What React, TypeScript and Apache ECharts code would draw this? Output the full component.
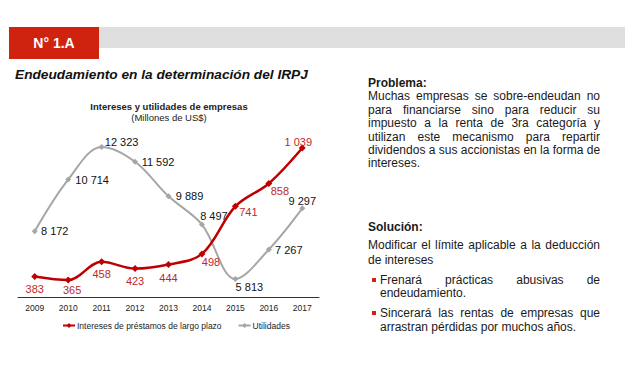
import React, { useEffect, useRef } from "react";
import * as echarts from "echarts";

// ---- Data ----
const years = ["2009", "2010", "2011", "2012", "2013", "2014", "2015", "2016", "2017"];
const intereses = [383, 365, 458, 423, 444, 498, 741, 858, 1039];
const utilidades = [8172, 10714, 12323, 11592, 9889, 8497, 5813, 7267, 9297];
const serieIntereses = "Intereses de préstamos de largo plazo";
const serieUtilidades = "Utilidades";

// ---- Label placement (styles, not data) ----
const redLabelOffsets: [number, number][] = [
  [0, 13], [4, 10], [0, 12], [0, 12], [0, 13], [9, 8], [13, 6], [11, 8], [-4, -6],
];
const greyLabelOffsets: [number, number][] = [
  [20, 0], [24, 0], [20, -5], [23, 0], [21, 0], [12, -9], [14, 8], [20, 0], [0, -7],
];

const FONT = "'Liberation Sans', Arial, Helvetica, sans-serif";
const RED = "#c00000";
const GREY = "#a6a6a6";

const fmt = (v: number) => String(v).replace(/\B(?=(\d{3})+(?!\d))/g, " ");

type Line = { text: string; y: number; justify?: boolean; bold?: boolean; x?: number; w?: number; bullet?: boolean };

const textLines: Line[] = [
  { text: "Problema:", y: 83, bold: true },
  { text: "Muchas empresas se sobre-endeudan no", y: 96, justify: true },
  { text: "para financiarse sino para reducir su", y: 109.5, justify: true },
  { text: "impuesto a la renta de 3ra categoría y", y: 123, justify: true },
  { text: "utilizan este mecanismo para repartir", y: 136.5, justify: true },
  { text: "dividendos a sus accionistas en la forma de", y: 150, justify: true },
  { text: "intereses.", y: 163 },
  { text: "Solución:", y: 227, bold: true },
  { text: "Modificar el límite aplicable a la deducción", y: 245, justify: true },
  { text: "de intereses", y: 259.5 },
  { text: "Frenará prácticas abusivas de", y: 280, justify: true, x: 380, w: 220, bullet: true },
  { text: "endeudamiento.", y: 293, x: 380, w: 220 },
  { text: "Sincerará las rentas de empresas que", y: 313, justify: true, x: 380, w: 220, bullet: true },
  { text: "arrastran pérdidas por muchos años.", y: 327, x: 380, w: 220 },
];

export default function App() {
  const ref = useRef<HTMLDivElement>(null);

  useEffect(() => {
    if (!ref.current) return;
    const chart = echarts.init(ref.current, undefined, { renderer: "svg" });
    chart.setOption({
      animation: false,
      backgroundColor: "#ffffff",
      textStyle: { fontFamily: FONT },
      graphic: [
        { type: "rect", shape: { x: 99, y: 27, width: 526, height: 21 }, style: { fill: "#dedede" } },
        { type: "rect", shape: { x: 9, y: 27, width: 90, height: 32 }, style: { fill: "#d0230f" } },
        {
          type: "text", x: 54, y: 43,
          style: { text: "N° 1.A", fill: "#ffffff", font: `bold 14px ${FONT}`, textAlign: "center", textVerticalAlign: "middle" },
        },
        {
          type: "text", x: 15, y: 74,
          style: { text: "Endeudamiento en la determinación del IRPJ", fill: "#111111", font: `italic bold 13.7px ${FONT}`, textAlign: "left", textVerticalAlign: "middle" },
        },
        {
          type: "text", x: 169, y: 106,
          style: { text: "Intereses y utilidades de empresas", fill: "#222222", font: `bold 9.5px ${FONT}`, textAlign: "center", textVerticalAlign: "middle" },
        },
        {
          type: "text", x: 169, y: 117,
          style: { text: "(Millones de US$)", fill: "#222222", font: `9.5px ${FONT}`, textAlign: "center", textVerticalAlign: "middle" },
        },
      ],
      legend: {
        data: [serieIntereses, serieUtilidades],
        left: 57,
        top: 316,
        itemWidth: 12,
        itemHeight: 6,
        itemGap: 16,
        textStyle: { fontSize: 8.5, color: "#222222", fontFamily: FONT, padding: [0, 0, 0, -3] },
      },
      grid: { left: 18, right: 321, top: 130, bottom: 71 },
      xAxis: {
        type: "category",
        data: years,
        boundaryGap: true,
        axisLine: { lineStyle: { color: "#333333", width: 1 } },
        axisTick: { length: 4, lineStyle: { color: "#333333" } },
        axisLabel: { fontSize: 8.5, color: "#222222", margin: 6, fontFamily: FONT },
        splitLine: { show: false },
      },
      yAxis: [
        { type: "value", min: 278, max: 1131, show: false },
        { type: "value", min: 4926, max: 13161, show: false },
      ],
      series: [
        {
          name: serieUtilidades,
          type: "line",
          yAxisIndex: 1,
          smooth: 0.35,
          symbol: "diamond",
          symbolSize: 6,
          lineStyle: { color: GREY, width: 2 },
          itemStyle: { color: GREY },
          label: {
            show: true,
            position: "inside",
            color: "#111111",
            fontSize: 11,
            fontFamily: FONT,
            formatter: (p: any) => fmt(p.value),
          },
          data: utilidades.map((v, i) => ({ value: v, label: { offset: greyLabelOffsets[i] } })),
          z: 2,
        },
        {
          name: serieIntereses,
          type: "line",
          yAxisIndex: 0,
          smooth: 0.35,
          symbol: "diamond",
          symbolSize: 7,
          lineStyle: { color: RED, width: 2.5 },
          itemStyle: { color: RED },
          label: {
            show: true,
            position: "inside",
            color: "#c0282d",
            fontSize: 11,
            fontFamily: FONT,
            formatter: (p: any) => fmt(p.value),
          },
          data: intereses.map((v, i) => ({ value: v, label: { offset: redLabelOffsets[i] } })),
          z: 3,
        },
      ],
    });
    return () => chart.dispose();
  }, []);

  return (
    <div style={{ position: "fixed", left: 0, top: 0, width: 640, height: 368, background: "#fff", overflow: "hidden" }}>
      <div ref={ref} style={{ position: "absolute", left: 0, top: 0, width: 640, height: 368 }} />
      {textLines.map((l, i) => (
        <React.Fragment key={i}>
          {l.bullet && (
            <div style={{ position: "absolute", left: 372, top: l.y - 2, width: 4, height: 4, background: "#d0230f" }} />
          )}
          <div
            style={{
              position: "absolute",
              left: l.x ?? 368,
              width: l.w ?? 232,
              top: l.y - 7,
              height: 14,
              lineHeight: "14px",
              fontSize: 12,
              fontFamily: FONT,
              fontWeight: l.bold ? "bold" : "normal",
              color: "#1a1a1a",
              whiteSpace: "nowrap",
              textAlign: l.justify ? "justify" : "left",
              textAlignLast: l.justify ? "justify" : "left",
            } as React.CSSProperties}
          >
            {l.text}
          </div>
        </React.Fragment>
      ))}
    </div>
  );
}
